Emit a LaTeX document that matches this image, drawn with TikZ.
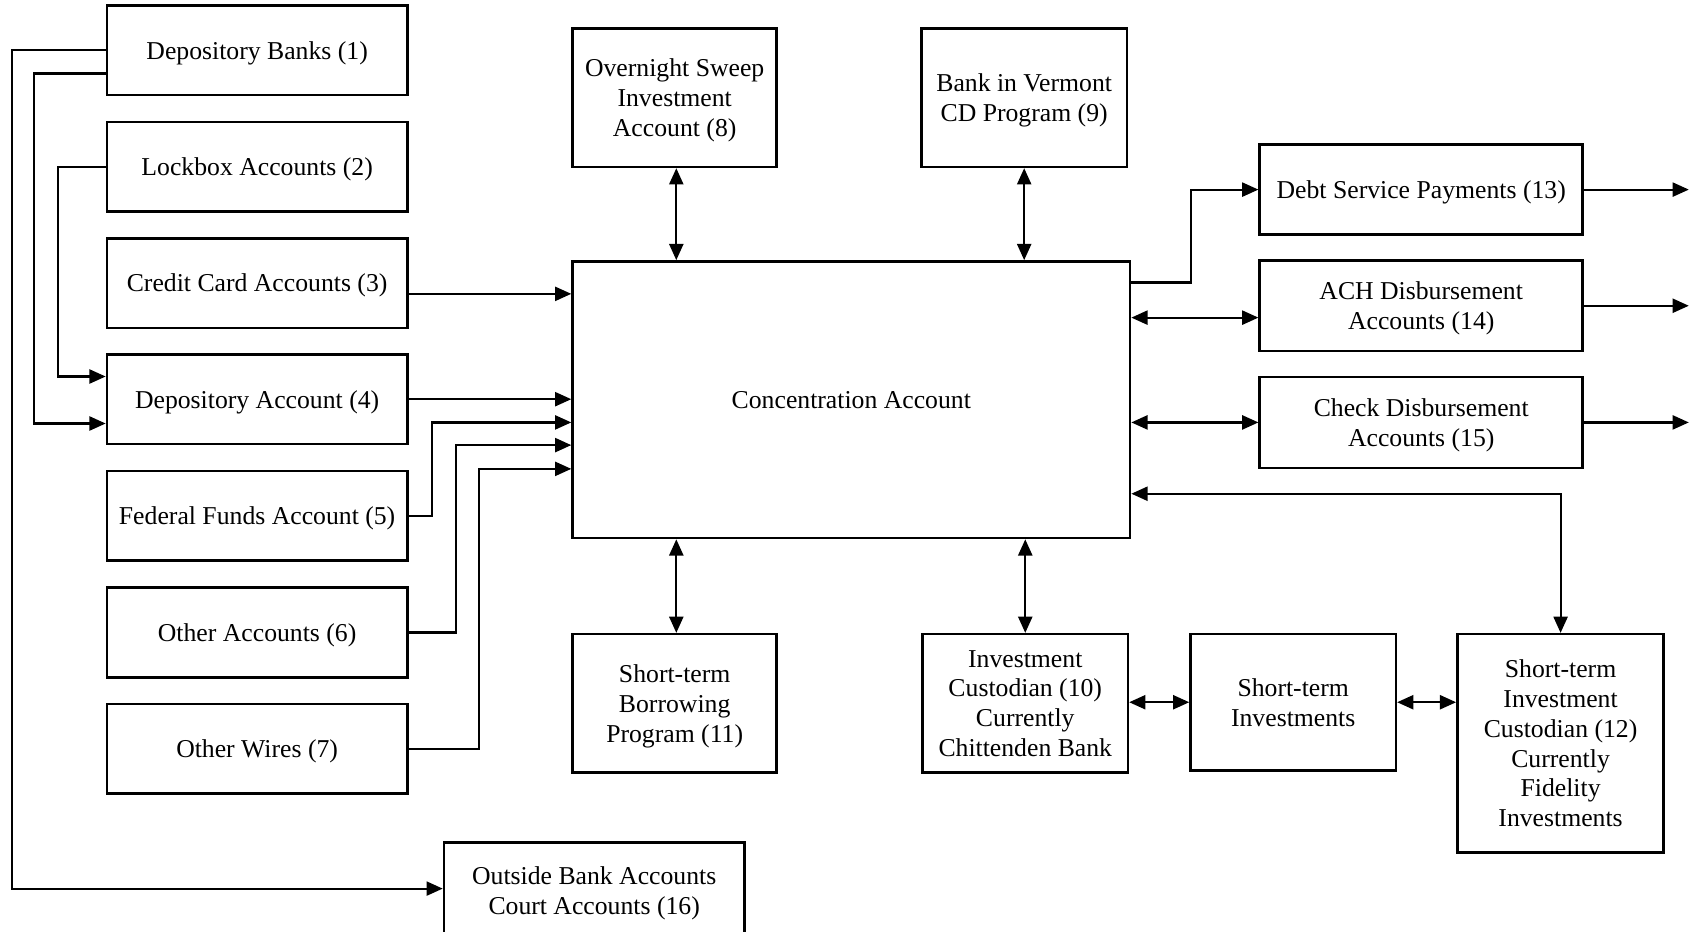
\documentclass[tikz,border=0pt]{standalone}
\usepackage{fontspec}
\setmainfont{Liberation Serif}
\usetikzlibrary{arrows.meta,calc}
\begin{document}
\begin{tikzpicture}[x=0.5pt,y=-0.5pt,
  box/.style={draw, line width=1.2pt, inner sep=0pt, align=center, text depth=0pt,
    font=\fontsize{11.9}{13.8}\selectfont},
  wbox/.style={box, minimum width=139pt, minimum height=41.5pt},
  sbox/.style={box, minimum width=95pt, minimum height=64pt},
  conn/.style={line width=1pt},
  arr/.style={conn, -{Triangle[length=7.5pt,width=6.5pt]}},
  darr/.style={conn, {Triangle[length=7.5pt,width=6.5pt]}-{Triangle[length=7.5pt,width=6.5pt]}}]
\useasboundingbox (0,0) rectangle (1568,862);
\clip (0,0) rectangle (1568,862);
% left column
\node[wbox] (b1) at (238,46.5) {Depository Banks (1)};
\node[wbox] (b2) at (238,154.5) {Lockbox Accounts (2)};
\node[wbox] (b3) at (238,262) {Credit Card Accounts (3)};
\node[wbox] (b4) at (238,369.5) {Depository Account (4)};
\node[wbox] (b5) at (238,477.5) {Federal Funds Account (5)};
\node[wbox] (b6) at (238,585.5) {Other Accounts (6)};
\node[wbox] (b7) at (238,693) {Other Wires (7)};
% centre
\node[box, minimum width=258pt, minimum height=128pt] (conc) at (788,370) {Concentration Account};
\node[sbox, minimum width=94.5pt] (b8) at (624.5,90.5) {Overnight Sweep\\Investment\\Account (8)};
\node[sbox] (b9) at (948,90.5) {Bank in Vermont\\CD Program (9)};
\node[sbox, minimum width=94.5pt] (b11) at (624.5,651) {Short-term\\Borrowing\\Program (11)};
\node[sbox] (b10) at (949,651) {Investment\\Custodian (10)\\Currently\\Chittenden Bank};
\node[sbox, minimum height=63pt] (sti) at (1197,650) {Short-term\\Investments};
\node[box, minimum width=95.5pt, minimum height=101pt] (b12) at (1444.5,688) {Short-term\\Investment\\Custodian (12)\\Currently\\Fidelity\\Investments};
% right column
\node[box, minimum width=149.5pt, minimum height=41.5pt] (b13) at (1315.5,175.5) {Debt Service Payments (13)};
\node[box, minimum width=149.5pt, minimum height=42pt] (b14) at (1315.5,283) {ACH Disbursement\\Accounts (14)};
\node[box, minimum width=149.5pt, minimum height=42pt] (b15) at (1315.5,391) {Check Disbursement\\Accounts (15)};
% bottom
\node[box, minimum width=139pt, minimum height=44pt] (b16) at (550,824) {Outside Bank Accounts\\Court Accounts (16)};
% left connectors
\draw[arr] (b1.west) -- ++(-87,0) |- ($(b16.west)+(0,-1.5)$);
\draw[arr] ($(b1.west)+(0,21.5)$) -- ++(-66,0) |- ($(b4.west)+(0,22.5)$);
\draw[arr] (b2.west) -- ++(-44,0) |- ($(b4.west)+(0,-21)$);
\draw[arr] ($(b3.east)+(0,10)$) -- ($(conc.west |- b3.east)+(0,10)$);
\draw[arr] (b4.east) -- (conc.west |- b4.east);
\draw[arr] (b5.east) -- ++(22,0) |- ($(conc.west)+(0,21)$);
\draw[arr] (b6.east) -- ++(44,0) |- ($(conc.west)+(0,42)$);
\draw[arr] (b7.east) -- ++(65,0) |- ($(conc.west)+(0,64)$);
% vertical double arrows
\draw[darr] ($(b8.south)+(1.5,0)$) -- ($(b8.south |- conc.north)+(1.5,0)$);
\draw[darr] (b9.south) -- (b9.south |- conc.north);
\draw[darr] ($(b11.north)+(1.5,0)$) -- ($(b11.north |- conc.south)+(1.5,0)$);
\draw[darr] (b10.north) -- (b10.north |- conc.south);
% bottom row
\draw[darr] (b10.east |- sti.west) -- (sti.west);
\draw[darr] (sti.east) -- (b12.west |- sti.east);
\draw[darr] ($(conc.east)+(0,87)$) -| (b12.north);
% right connectors
\draw[arr] ($(conc.east)+(0,-108.5)$) -- ++(55,0) |- (b13.west);
\draw[darr] (conc.east |- {$(b14.west)+(0,11)$}) -- ($(b14.west)+(0,11)$);
\draw[darr] (conc.east |- b15.west) -- (b15.west);
\draw[arr] (b13.east) -- ++(97,0);
\draw[arr] (b14.east) -- ++(97,0);
\draw[arr] (b15.east) -- ++(97,0);
\end{tikzpicture}
\end{document}
